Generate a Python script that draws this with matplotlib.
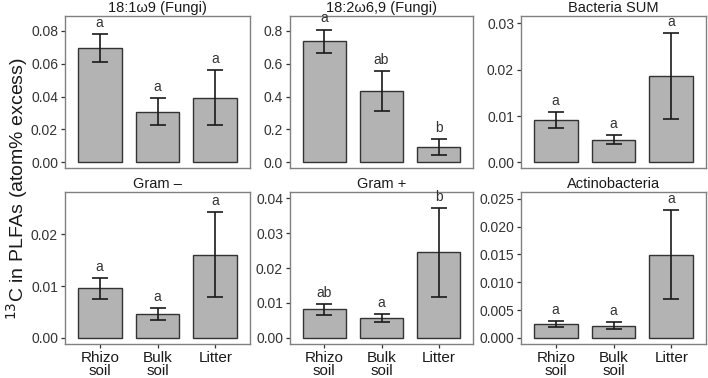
import matplotlib
matplotlib.use('Agg')
import matplotlib.pyplot as plt
import numpy as np

plt.rcParams['font.family'] = ['Liberation Sans', 'DejaVu Sans']

groups = ['Rhizo\nsoil', 'Bulk\nsoil', 'Litter']
titles = ['18:1\u03c99 (Fungi)', '18:2\u03c96,9 (Fungi)', 'Bacteria SUM',
          'Gram \u2013', 'Gram +', 'Actinobacteria']

# bar heights (means)
fungi_181 = [0.0695, 0.0308, 0.0394]
fungi_182 = [0.739, 0.434, 0.093]
bact_sum = [0.0092, 0.0049, 0.0186]
gram_neg = [0.0096, 0.0046, 0.0160]
gram_pos = [0.0082, 0.0057, 0.0246]
actino = [0.0025, 0.0022, 0.0149]

# error bar low / high
fungi_181_lo = [0.061, 0.0227, 0.0227]
fungi_181_hi = [0.078, 0.039, 0.056]
fungi_182_lo = [0.664, 0.313, 0.046]
fungi_182_hi = [0.808, 0.556, 0.140]
bact_sum_lo = [0.0074, 0.0039, 0.0093]
bact_sum_hi = [0.0109, 0.0059, 0.0279]
gram_neg_lo = [0.0076, 0.0035, 0.0078]
gram_neg_hi = [0.0116, 0.0058, 0.0243]
gram_pos_lo = [0.0066, 0.0045, 0.0118]
gram_pos_hi = [0.0096, 0.0068, 0.0373]
actino_lo = [0.0020, 0.0016, 0.0069]
actino_hi = [0.0030, 0.0029, 0.0230]

letters = [['a', 'a', 'a'], ['a', 'ab', 'b'], ['a', 'a', 'a'],
           ['a', 'a', 'a'], ['ab', 'a', 'b'], ['a', 'a', 'a']]

means = [fungi_181, fungi_182, bact_sum, gram_neg, gram_pos, actino]
lows = [fungi_181_lo, fungi_182_lo, bact_sum_lo, gram_neg_lo, gram_pos_lo, actino_lo]
highs = [fungi_181_hi, fungi_182_hi, bact_sum_hi, gram_neg_hi, gram_pos_hi, actino_hi]

ylims = [(-0.0035, 0.089), (-0.035, 0.891), (-0.0012, 0.0316),
         (-0.0012, 0.0282), (-0.0018, 0.0418), (-0.0011, 0.0262)]
yticks = [[0.0, 0.02, 0.04, 0.06, 0.08], [0.0, 0.2, 0.4, 0.6, 0.8],
          [0.0, 0.01, 0.02, 0.03], [0.0, 0.01, 0.02],
          [0.0, 0.01, 0.02, 0.03, 0.04], [0.0, 0.005, 0.01, 0.015, 0.02, 0.025]]
yfmt = ['%.2f', '%.1f', '%.2f', '%.2f', '%.2f', '%.3f']

fig = plt.figure(figsize=(7.08, 3.78), dpi=100)
lefts = [65, 290, 521]
widths = [185, 183, 185]
tops = [16, 192]
H = 152

x = np.arange(3)
for i in range(6):
    r, c = divmod(i, 3)
    ax = fig.add_axes([lefts[c] / 708, 1 - (tops[r] + H) / 378, widths[c] / 708, H / 378])
    m = np.array(means[i])
    lo = np.array(lows[i])
    hi = np.array(highs[i])
    ax.bar(x, m, width=0.76, color='#b3b3b3', edgecolor='#333333', linewidth=1.0, zorder=2)
    ax.errorbar(x, m, yerr=[m - lo, hi - m], fmt='none', ecolor='#1a1a1a',
                elinewidth=1.2, capsize=5.5, capthick=1.2, zorder=3)
    for j in range(3):
        ax.annotate(letters[i][j], (x[j], hi[j]), xytext=(0, 3), textcoords='offset points',
                    ha='center', va='bottom', fontsize=10, color='#333333')
    ax.set_xlim(-0.6, 2.6)
    ax.set_ylim(*ylims[i])
    ax.set_yticks(yticks[i])
    ax.set_yticklabels([yfmt[i] % v for v in yticks[i]])
    ax.set_title(titles[i], fontsize=10.5, color='#1a1a1a', pad=3)
    for s in ax.spines.values():
        s.set_color('#808080')
        s.set_linewidth(1.0)
    ax.tick_params(axis='y', length=3, width=0.9, color='#333333', labelsize=10,
                   labelcolor='#333333', pad=2)
    if r == 1:
        ax.set_xticks(x)
        ax.set_xticklabels(groups, fontsize=11, color='#1a1a1a', linespacing=0.95)
        ax.tick_params(axis='x', length=3, width=0.9, color='#333333', pad=2)
    else:
        ax.set_xticks([])

fig.text(0.024, 0.5, '$^{13}$C in PLFAs (atom% excess)', rotation=90,
         ha='center', va='center', fontsize=14, color='#1a1a1a')

fig.savefig('out.png', dpi=100)
